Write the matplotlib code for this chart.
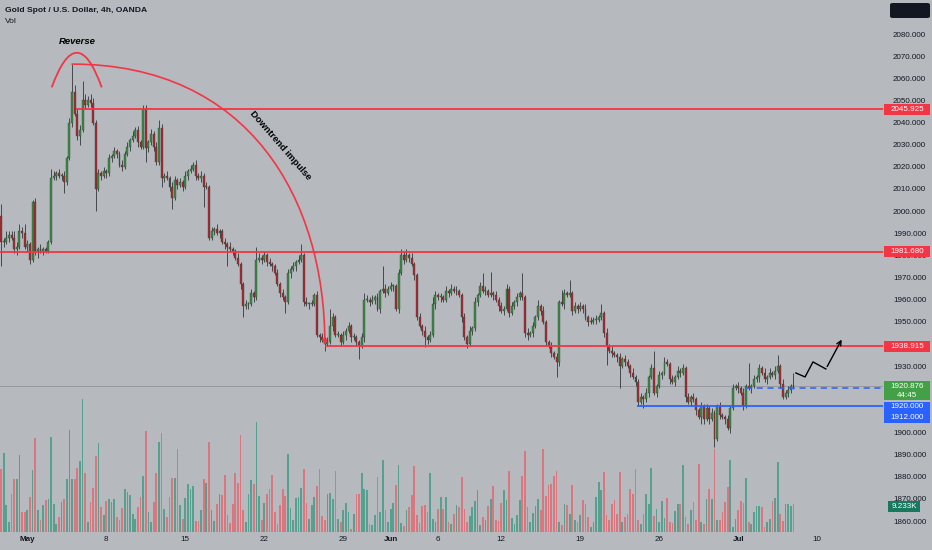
import numpy as np
import matplotlib.pyplot as plt
from matplotlib.patches import FancyArrowPatch, FancyBboxPatch, Rectangle, PathPatch
from matplotlib.path import Path
from matplotlib.transforms import blended_transform_factory

plt.rcParams['font.family'] = ['Liberation Sans', 'DejaVu Sans']

# ---- data: XAUUSD 4h (open = previous close) ----
first_open = 1998.0
closes = [
    1986, 1986, 1988, 1989, 1988, 1983, 1984, 1991, 1990, 1984,
    1985, 1978, 2004, 1982, 1983, 1982, 1983, 1982, 1986, 2015,
    2016, 2017, 2016, 2016, 2013, 2024, 2040, 2054, 2044, 2034,
    2036.7, 2050, 2048, 2050, 2049, 2040, 2010, 2017, 2016, 2018,
    2017, 2024, 2025, 2027, 2026, 2021, 2020, 2026, 2029, 2032,
    2034, 2036.5, 2031, 2029, 2046, 2028.5, 2031, 2035, 2029, 2022,
    2037.5, 2015, 2016, 2015, 2011, 2006, 2014, 2012, 2013, 2011,
    2016, 2018, 2019, 2021, 2016, 2015, 2016, 2011, 2011, 1988,
    1991, 1992, 1990, 1991, 1986, 1985, 1984, 1983, 1982, 1979,
    1976, 1967, 1957, 1958, 1958, 1963, 1961, 1978, 1979, 1978,
    1980, 1977, 1976, 1975, 1972, 1967, 1963, 1961, 1959, 1972,
    1974, 1975, 1977, 1978, 1980, 1959, 1958, 1958, 1958, 1962,
    1944, 1943, 1942, 1940, 1941, 1948, 1952, 1944, 1944, 1941,
    1944, 1946, 1948, 1943, 1943, 1941, 1939, 1943, 1960, 1960,
    1959, 1960, 1961, 1956, 1964, 1965, 1963, 1965, 1966, 1966,
    1956, 1972, 1980, 1978, 1980, 1979, 1976, 1971, 1952, 1948,
    1946, 1943, 1942, 1944, 1958, 1962, 1961, 1961, 1960, 1964,
    1963, 1965, 1964, 1964, 1962, 1952, 1943, 1940, 1946, 1947,
    1959, 1962, 1966, 1964, 1964, 1962, 1963, 1962, 1960, 1957,
    1955, 1956, 1965, 1954, 1957, 1959, 1961, 1963, 1961, 1945,
    1944, 1945, 1948, 1952, 1957, 1955, 1950, 1941, 1939, 1936,
    1934, 1932, 1959, 1958, 1963, 1962, 1963, 1955, 1957, 1956,
    1957, 1956, 1952, 1950, 1950, 1951, 1951, 1952, 1954, 1945,
    1939, 1937, 1936, 1935, 1934, 1930, 1933, 1932, 1930, 1927,
    1925, 1923, 1914, 1916, 1915, 1918, 1925, 1929, 1918, 1921,
    1926, 1927, 1932, 1931, 1924, 1923, 1925, 1928, 1927, 1929,
    1916, 1914, 1916, 1915, 1910, 1907, 1912, 1906, 1911, 1906,
    1909, 1897, 1912, 1908, 1907, 1906, 1902, 1911, 1920, 1921,
    1920, 1918, 1912, 1921, 1920, 1921, 1924, 1925, 1929, 1927,
    1924, 1925, 1927, 1926, 1928, 1930, 1922, 1916, 1918, 1919,
    1921, 1920.876,
]
wick_up = [
    5, 2, 3, 2, 2, 3, 2, 3, 2, 4,
    2, 1, 1, 2, 1, 2, 1, 1, 1, 4,
    2, 1, 2, 1, 2, 1, 2, 12.5, 3, 2,
    2, 9, 3, 2, 3, 2, 1, 2, 1, 2,
    1, 2, 1, 2, 1, 1, 2, 1, 2, 1,
    2, 1.5, 2, 1, 2, 2, 1, 2, 1, 2,
    3.5, 2, 1, 2, 1, 2, 2, 1, 2, 1,
    2, 1, 2, 1, 2, 1, 2, 1, 2, 1,
    2, 1, 2, 1, 1, 2, 1, 2, 1, 1,
    2, 1, 1, 2, 1, 2, 1, 6, 2, 1,
    2, 1, 2, 1, 1, 2, 1, 2, 1, 2,
    1, 2, 1, 2, 5, 1, 2, 1, 2, 1,
    2, 1, 2, 1, 2, 8, 2, 1, 2, 1,
    2, 1, 2, 1, 2, 1, 1, 2, 3, 2,
    1, 2, 1, 2, 1, 10, 2, 1, 2, 1,
    1, 2, 3, 2, 3, 1, 2, 1, 1, 2,
    1, 2, 1, 2, 3, 2, 1, 2, 1, 2,
    1, 2, 1, 2, 1, 1, 2, 1, 2, 1,
    2, 1, 2, 6, 2, 1, 9.5, 1, 2, 1,
    2, 1, 2, 1, 2, 1, 2, 1, 9, 1,
    2, 1, 2, 1, 3, 1, 2, 1, 1, 2,
    1, 2, 1, 5.5, 2, 1, 6, 1, 2, 1,
    2, 1, 2, 1, 2, 1, 2, 1, 4, 1,
    2, 1, 2, 1, 1, 2, 1, 2, 1, 1,
    2, 1, 1, 2, 1, 2, 1, 2, 8, 1,
    2, 1, 2, 1, 1, 2, 1, 2, 1, 2,
    1, 2, 1, 2, 1, 1, 2, 1, 2, 1,
    2, 1, 1, 2, 1, 1, 2, 1, 2, 1,
    2, 1, 2, 1, 10.5, 1, 2, 1, 2, 1,
    2, 1, 2, 1, 2, 5, 1, 2, 1, 2,
    1, 6,
]
wick_dn = [
    11, 2, 1, 2, 1, 2, 3, 1, 2, 1,
    2, 2, 1, 2, 3, 1, 2, 1, 1, 1,
    1, 2, 1, 2, 5, 1, 1, 2, 1, 2,
    4, 1, 2, 1, 2, 1, 10, 1, 2, 1,
    2, 1, 2, 1, 2, 1, 2, 1, 1, 2,
    1, 1, 2, 1, 1, 6.5, 2, 1, 2, 1,
    1, 4, 2, 1, 2, 5, 1, 2, 1, 2,
    1, 2, 1, 1, 2, 1, 2, 9, 1, 1,
    1, 2, 1, 2, 1, 2, 9, 1, 2, 1,
    1, 2, 5, 1, 2, 1, 2, 1, 1, 2,
    1, 2, 1, 2, 1, 1, 2, 1, 5, 1,
    2, 1, 2, 1, 1, 2, 1, 2, 1, 1,
    1, 2, 1, 3, 1, 1, 2, 1, 1, 2,
    1, 2, 1, 2, 1, 2, 6, 1, 2, 1,
    2, 1, 2, 1, 2, 1, 2, 1, 1, 2,
    1, 2, 1, 2, 1, 2, 1, 2, 1, 1,
    2, 4.4, 2, 1, 1, 2, 1, 2, 1, 1,
    2, 1, 1, 2, 1, 2, 1, 2, 1, 2,
    1, 2, 1, 1, 2, 1, 1, 2, 1, 2,
    1, 2, 1, 2, 1, 1, 2, 1, 1, 2,
    2, 1, 2, 1, 1, 2, 1, 2, 1, 2,
    1, 7, 2, 1, 2, 1, 1, 2, 1, 2,
    1, 2, 1, 2, 1, 1, 2, 1, 1, 2,
    8.5, 1, 2, 1, 2, 10, 1, 2, 1, 2,
    1, 2, 2, 1, 4, 1, 2, 1, 1, 2,
    1, 2, 1, 1, 2, 1, 2, 1, 2, 1,
    2, 1, 2, 1, 2, 1, 3, 2, 1, 2,
    1, 3.5, 1, 2, 1, 2, 1, 2, 1, 1,
    2, 1, 2, 1, 1, 2, 1, 1, 2, 1,
    1, 2, 1, 1, 2, 1, 2, 1, 1, 2,
    1, 1,
]
volume_k = [
    21, 26.3, 9, 3.3, 12.7, 17.7, 17.7, 25.7, 6.7, 6.7,
    7.3, 11.7, 20.7, 31.3, 7.3, 4, 9, 10.7, 11, 31.7,
    9.3, 2.7, 5, 10, 11, 17.7, 34, 17.7, 17.7, 21.3,
    23.7, 44.3, 19.7, 3.3, 10, 14.7, 25.3, 29.7, 8.3, 5.7,
    10.3, 11, 10, 11, 5, 4, 8, 14.3, 13.3, 12.3,
    6, 4.3, 8.3, 11.7, 18.7, 33.7, 6.7, 3.3, 10, 19.7,
    30, 33, 7.7, 5, 11.7, 18, 18, 27.7, 9, 4.3,
    11.3, 16, 14.3, 15.3, 3.7, 3.7, 7.3, 17.7, 16.3, 30,
    7.3, 3.7, 9.3, 12.7, 12.3, 19, 5.7, 3, 9.3, 19.7,
    16.3, 32.3, 7.3, 3.3, 12.7, 17.3, 16, 36.7, 12, 4,
    9.7, 12.7, 14.3, 19, 6.7, 2.7, 9, 14.3, 12, 26,
    8, 4, 11.3, 11.7, 14.7, 21, 9.7, 4.3, 9, 11.7,
    15.3, 21, 5.3, 4, 12.7, 13, 11, 20.3, 4.3, 3.3,
    7.3, 9.7, 6.7, 1, 6, 12.7, 12.7, 19.7, 14.3, 14,
    2.7, 2.3, 5.7, 18.3, 6.7, 24, 7.3, 3.3, 7.7, 9.7,
    15.7, 22.3, 3, 2, 7.3, 8.3, 12.3, 22, 5.7, 3,
    8.7, 9, 6.7, 19.7, 4.3, 3.3, 7.7, 11.7, 7.7, 11.7,
    3.3, 2.7, 6, 9, 8.3, 18.3, 7.7, 3.3, 5.3, 8.3,
    10.3, 14, 2.3, 5, 4, 8.7, 11, 15.3, 4, 3.7,
    9.7, 14, 10.7, 20.3, 4.7, 2.7, 5.7, 10.7, 18.7, 27,
    8.3, 3.3, 6.3, 8.7, 11, 7.3, 27.7, 12, 15.7, 16,
    18.7, 20.3, 3.3, 2.3, 9.3, 9, 6, 15.7, 4, 3.3,
    5.7, 10.7, 9.3, 5, 1.7, 3.3, 11.7, 16.7, 14, 20,
    5.7, 4, 9.3, 10.7, 6, 20, 3.3, 5, 6, 14.3,
    12.7, 21, 4, 2.7, 6, 12.7, 9.3, 21.3, 5.3, 7.7,
    3.3, 10.3, 4.7, 11.3, 3.3, 3, 7, 9.3, 9.3, 22.3,
    5, 2.7, 7.3, 10, 4, 22.7, 3.3, 2.7, 11, 14.3,
    11, 27.7, 4, 4, 6.7, 10, 15, 24, 1.7, 4.3,
    7.3, 10.3, 9.7, 18, 3.3, 2.7, 6.7, 8.7, 8.7, 8.3,
    1.7, 3.3, 4.3, 10.3, 11.3, 23.3, 6, 3.7, 9.3, 9.3,
    8.7, 9.233,
]

tick_pos = [10, 40, 70, 100, 130, 148, 166, 190, 220, 250, 280, 310]
tick_lab = ['May', '8', '15', '22', '29', 'Jun', '6', '12', '19', '26', 'Jul', '10']
month_labels = ['May', 'Jun', 'Jul']
# 1940, 1920 and 1910 sit fully under the price tags, so they are left out
price_ticks = [1860, 1870, 1880, 1890, 1900, 1930, 1950, 1960, 1970, 1980, 1990,
               2000, 2010, 2020, 2030, 2040, 2050, 2060, 2070, 2080]

red_levels = [2045.925, 1981.68, 1938.915]
red_starts = [28.5, -1, 123]
support_1912 = 1912.0
support_start = 241.6
dashed_1920 = 1920.0
dashed_start = 283
last_price = 1920.876

zigzag_x = [301.9, 305.4, 308.4, 313.3, 319.8]
zigzag_y = [1926.9, 1925.1, 1931.9, 1928.7, 1943.1]

# ---- colours ----
BG = '#b6b9be'
UP = '#3d8c45'
DN = '#ad2a33'
VOL_UP = '#55a08e'
VOL_DN = '#d9767e'
RED = '#f23645'
BLUE = '#2962ff'
TXT = '#131722'

closes = np.array(closes, dtype=float)
opens = np.r_[first_open, closes[:-1]]
x = np.arange(len(closes))
up = closes >= opens
highs = np.maximum(opens, closes) + np.array(wick_up)
lows = np.minimum(opens, closes) - np.array(wick_dn)

fig = plt.figure(figsize=(9.32, 5.5), dpi=100, facecolor=BG)
ax = fig.add_axes([0, 18 / 550, 883 / 932, 532 / 550])
ax_v = ax.twinx()
ax.set_zorder(1)
ax_v.set_zorder(0)
ax.patch.set_visible(False)
ax_v.patch.set_visible(False)

# volume overlay
ax_v.bar(x, volume_k, width=0.66, color=np.where(up, VOL_UP, VOL_DN), linewidth=0)
ax_v.set_ylim(0, 177.3)
ax_v.axis('off')

# candles
ax.vlines(x, lows, highs, color='#33363b', lw=0.6, zorder=3)
body_lo = np.minimum(opens, closes)
body_h = np.maximum(np.abs(closes - opens), 0.45)
ccol = np.where(up, UP, DN)
ax.bar(x, body_h, bottom=body_lo, width=0.74, color=ccol, edgecolor='#2d3a2f',
       lw=0.25, zorder=4)

ax.set_xlim(-0.38, 335)
ax.set_ylim(1855.07, 2095.36)
for s in ax.spines.values():
    s.set_visible(False)

# horizontal levels
ax.axhline(last_price, color='#979aa0', lw=0.7, zorder=1)
for lvl, st in zip(red_levels, red_starts):
    ax.hlines(lvl, st, 335, color=RED, lw=1.3, zorder=5)
ax.hlines(support_1912, support_start, 335, color=BLUE, lw=1.3, zorder=5)
ax.hlines(dashed_1920, dashed_start, 335, color=BLUE, lw=1.1, ls=(0, (4, 3)), zorder=5)

# annotations
arch = Path([(19.26, 2055.9), (28.86, 2087.2), (38.25, 2055.9)],
            [Path.MOVETO, Path.CURVE3, Path.CURVE3])
ax.add_patch(PathPatch(arch, fc='none', ec=RED, lw=1.3, zorder=6))
ax.text(28.9, 2076.8, 'Reverse', fontsize=6.8, style='italic', weight='bold',
        ha='center', va='center', color='black', zorder=6)

curve = Path([(27, 2066.4), (94.6, 2066.4), (123, 2005), (123, 1939.5)],
             [Path.MOVETO, Path.CURVE4, Path.CURVE4, Path.CURVE4])
ax.add_patch(FancyArrowPatch(path=curve, arrowstyle='->', mutation_scale=7,
                             color=RED, lw=1.2, zorder=6))
ax.text(106, 2029.9, 'Downtrend impulse', fontsize=6.8, weight='bold', rotation=-49,
        rotation_mode='anchor', ha='center', va='center', color='black', zorder=6)

ax.plot(zigzag_x[:-1], zigzag_y[:-1], color='black', lw=1.0, zorder=6)
ax.annotate('', xy=(zigzag_x[-1], zigzag_y[-1]), xytext=(zigzag_x[-2], zigzag_y[-2]),
            arrowprops=dict(arrowstyle='->', color='black', lw=1.0, mutation_scale=8),
            zorder=6)

# axes ticks
ax.yaxis.tick_right()
ax.set_yticks(price_ticks)
ax.set_yticklabels([f'{p:.3f}' for p in price_ticks])
ax.tick_params(axis='y', length=0, pad=7.2, labelsize=5.8, labelcolor=TXT)
ax.set_xticks(tick_pos)
ax.set_xticklabels(tick_lab)
ax.tick_params(axis='x', length=0, pad=3.2, labelsize=5.8, labelcolor=TXT)
for lab in ax.get_xticklabels():
    if lab.get_text() in month_labels:
        lab.set_fontweight('bold')

# price tags on the right scale
tr = blended_transform_factory(ax.transAxes, ax.transData)
px = 1 / 883
ppu = 2.214  # pixels per price unit


def tag(yc, h_px, lines, fc, x0=884, x1=930):
    h = h_px / ppu
    ax.add_patch(Rectangle((x0 * px, yc - h / 2), (x1 - x0) * px, h, transform=tr,
                           fc=fc, ec='none', clip_on=False, zorder=10))
    for ty, t in lines:
        ax.text((x0 + x1) / 2 * px, ty, t, transform=tr, fontsize=5.8, color='white',
                ha='center', va='center', clip_on=False, zorder=11)


for lvl in red_levels:
    tag(lvl, 11, [(lvl, f'{lvl:.3f}')], RED)
tag(1918.98, 19, [(1921.0, '1920.876'), (1916.9, '44:45')], '#43a047')
tag(1909.04, 21, [(1911.6, '1920.000'), (1906.6, '1912.000')], BLUE)
tag(1866.6, 11, [(1866.6, '9.233K')], '#157a5f', x0=888, x1=920)

# header texts
fig.text(5 / 932, 1 - 10.5 / 550, 'Gold Spot / U.S. Dollar, 4h, OANDA', fontsize=6.1,
         weight='bold', color=TXT, va='center')
fig.text(5 / 932, 1 - 21.5 / 550, 'Vol', fontsize=6.1, color=TXT, va='center')
fig.add_artist(FancyBboxPatch((890 / 932, 1 - 18 / 550), 40 / 932, 15 / 550,
                              boxstyle='round,pad=0,rounding_size=0.003',
                              transform=fig.transFigure, fc=TXT, ec='none'))

fig.savefig('out.png', dpi=100, facecolor=BG)
